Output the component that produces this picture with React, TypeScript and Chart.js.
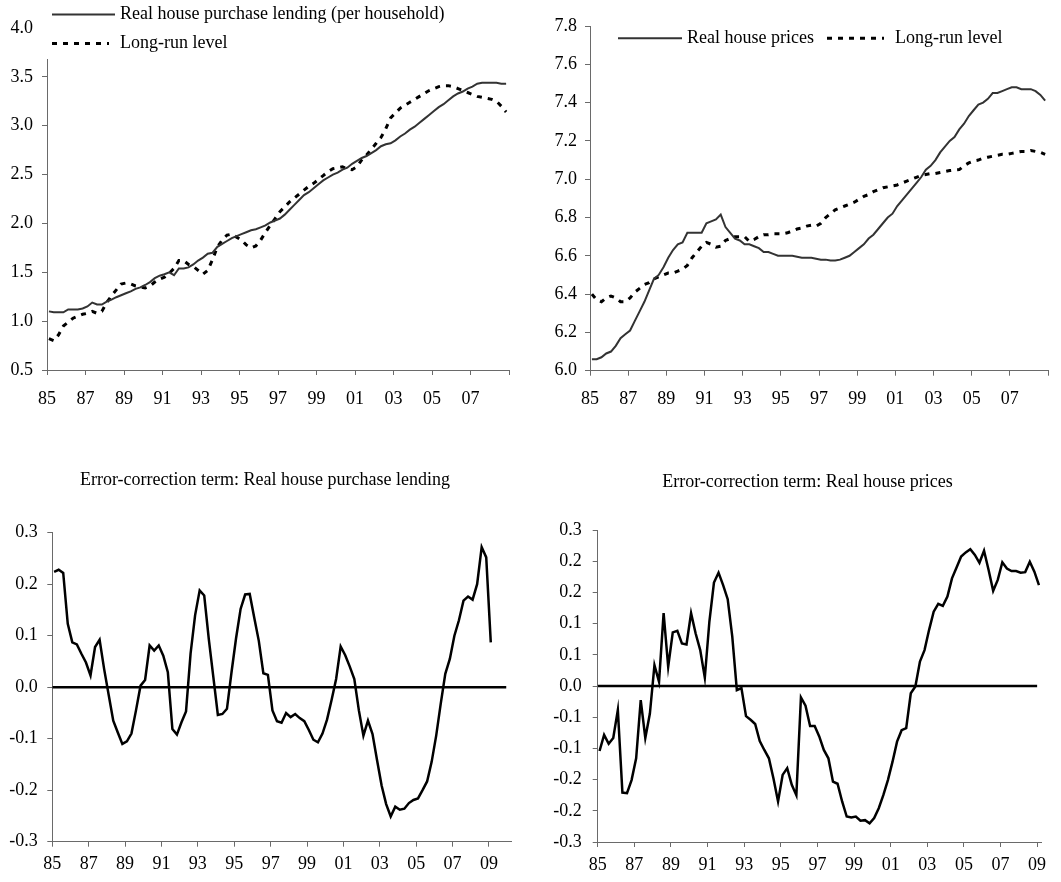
import React, { useEffect, useRef } from "react";
import { Chart, registerables } from "chart.js";

Chart.register(...registerables);

const FONT = '"Liberation Serif", "Times New Roman", serif';

// ---------- data ----------
const topQuarterStart = 1985.1; // 1985Q1 .. 2008Q4
const bottomQuarterStart = 1985.1; // 1985Q1 .. 2009Q1

const lendingActual = [
  1.10, 1.09, 1.09, 1.09,
  1.12, 1.12, 1.12, 1.13,
  1.15, 1.19, 1.17, 1.17,
  1.20, 1.22, 1.245, 1.265,
  1.285, 1.305, 1.33, 1.345,
  1.37, 1.40, 1.44, 1.465,
  1.48, 1.50, 1.47, 1.54,
  1.54, 1.55, 1.58, 1.62,
  1.65, 1.69, 1.70, 1.76,
  1.79, 1.82, 1.85, 1.87,
  1.89, 1.91, 1.93, 1.94,
  1.96, 1.98, 2.01, 2.03,
  2.05, 2.09, 2.14, 2.19,
  2.24, 2.29, 2.32, 2.36,
  2.40, 2.44, 2.47, 2.50,
  2.52, 2.55, 2.57, 2.61,
  2.64, 2.67, 2.69, 2.72,
  2.75, 2.79, 2.81, 2.82,
  2.85, 2.89, 2.92, 2.96,
  2.99, 3.03, 3.07, 3.11,
  3.15, 3.19, 3.22, 3.26,
  3.30, 3.33, 3.35, 3.38,
  3.40, 3.43, 3.44, 3.44,
  3.44, 3.44, 3.43, 3.43,
];

const lendingLongRun = [
  0.82, 0.80, 0.86, 0.95,
  0.99, 1.03, 1.05, 1.07,
  1.08, 1.10, 1.08, 1.10,
  1.19, 1.26, 1.32, 1.38,
  1.39, 1.38, 1.36, 1.35,
  1.34, 1.36, 1.40, 1.43,
  1.45, 1.49, 1.54, 1.62,
  1.62, 1.58, 1.56, 1.52,
  1.48, 1.52, 1.63, 1.76,
  1.83, 1.88, 1.89, 1.86,
  1.83, 1.78, 1.75, 1.77,
  1.83, 1.91, 1.98, 2.05,
  2.12, 2.17, 2.22, 2.26,
  2.30, 2.34, 2.38, 2.41,
  2.45, 2.49, 2.53, 2.56,
  2.57, 2.58, 2.56, 2.55,
  2.58, 2.65, 2.70, 2.76,
  2.82, 2.88, 2.97, 3.08,
  3.13, 3.18, 3.21, 3.24,
  3.27, 3.30, 3.33, 3.36,
  3.38, 3.40, 3.41, 3.41,
  3.40, 3.38, 3.36, 3.34,
  3.32, 3.30, 3.29, 3.28,
  3.27, 3.25, 3.20, 3.14,
];

const pricesActual = [
  6.06, 6.06, 6.07, 6.09,
  6.10, 6.13, 6.17, 6.19,
  6.21, 6.26, 6.31, 6.36,
  6.42, 6.48, 6.50, 6.54,
  6.59, 6.63, 6.66, 6.67,
  6.72, 6.72, 6.72, 6.72,
  6.77, 6.78, 6.79, 6.815,
  6.75, 6.72, 6.69, 6.68,
  6.66, 6.66, 6.65, 6.64,
  6.62, 6.62, 6.61, 6.60,
  6.60, 6.60, 6.60, 6.595,
  6.59, 6.59, 6.59, 6.585,
  6.58, 6.58, 6.575, 6.575,
  6.58, 6.59, 6.60, 6.62,
  6.64, 6.66, 6.69, 6.71,
  6.74, 6.77, 6.80, 6.82,
  6.86, 6.89, 6.92, 6.95,
  6.98, 7.01, 7.05, 7.07,
  7.10, 7.14, 7.17, 7.20,
  7.22, 7.26, 7.29, 7.33,
  7.36, 7.39, 7.40, 7.42,
  7.45, 7.45, 7.46, 7.47,
  7.48, 7.48, 7.47, 7.47,
  7.47, 7.46, 7.44, 7.41,
];

const pricesLongRun = [
  6.40, 6.37, 6.36, 6.38,
  6.39, 6.38, 6.36, 6.36,
  6.38, 6.41, 6.43, 6.45,
  6.46, 6.48, 6.49, 6.50,
  6.51, 6.51, 6.52, 6.53,
  6.55, 6.59, 6.62, 6.65,
  6.67, 6.66, 6.645, 6.65,
  6.68, 6.69, 6.70, 6.70,
  6.70, 6.675, 6.685, 6.70,
  6.71, 6.71, 6.715, 6.715,
  6.715, 6.72, 6.73, 6.74,
  6.745, 6.755, 6.76, 6.755,
  6.77, 6.80, 6.82, 6.84,
  6.85, 6.86, 6.87, 6.88,
  6.895, 6.91, 6.92, 6.935,
  6.945, 6.955, 6.96, 6.965,
  6.97, 6.98, 6.99, 7.00,
  7.01, 7.02, 7.025, 7.03,
  7.03, 7.035, 7.04, 7.045,
  7.048, 7.05, 7.07, 7.085,
  7.095, 7.10, 7.11, 7.115,
  7.12, 7.125, 7.13, 7.13,
  7.135, 7.14, 7.145, 7.145,
  7.15, 7.145, 7.14, 7.13,
];

const ecmLending = [
  0.224, 0.228, 0.222, 0.123,
  0.087, 0.083, 0.065, 0.048,
  0.023, 0.078, 0.092, 0.035,
  -0.015, -0.065, -0.088, -0.11,
  -0.105, -0.09, -0.045, 0.003,
  0.014, 0.081, 0.071, 0.081,
  0.061, 0.029, -0.081, -0.092,
  -0.068, -0.047, 0.065, 0.14,
  0.188, 0.178, 0.094, 0.02,
  -0.054, -0.052, -0.042, 0.029,
  0.095, 0.152, 0.18, 0.181,
  0.135, 0.09, 0.027, 0.024,
  -0.045, -0.066, -0.069, -0.05,
  -0.058, -0.052, -0.06, -0.066,
  -0.083, -0.102, -0.107, -0.09,
  -0.063, -0.025, 0.016, 0.079,
  0.062, 0.04, 0.016, -0.045,
  -0.094, -0.065, -0.091, -0.142,
  -0.191, -0.227, -0.251, -0.232,
  -0.238, -0.236, -0.225, -0.219,
  -0.216, -0.2, -0.183, -0.145,
  -0.094, -0.032, 0.026, 0.055,
  0.1, 0.13, 0.168, 0.176,
  0.17, 0.2, 0.272, 0.252,
  0.087,
];

const ecmPrices = [
  -0.125, -0.094, -0.111, -0.1,
  -0.046, -0.205, -0.206, -0.181,
  -0.139, -0.027, -0.1, -0.053,
  0.04, 0.008, 0.14, 0.037,
  0.103, 0.106, 0.082, 0.08,
  0.14, 0.101, 0.069, 0.016,
  0.124, 0.199, 0.218, 0.194,
  0.167, 0.095, -0.008, -0.004,
  -0.058, -0.065, -0.073, -0.106,
  -0.123, -0.139, -0.178, -0.222,
  -0.171, -0.158, -0.19, -0.21,
  -0.022, -0.038, -0.077, -0.077,
  -0.097, -0.123, -0.139, -0.184,
  -0.188, -0.222, -0.251, -0.253,
  -0.251, -0.259, -0.258, -0.264,
  -0.254, -0.235, -0.21, -0.181,
  -0.146, -0.107, -0.085, -0.081,
  -0.014, -0.001, 0.047, 0.069,
  0.108, 0.143, 0.158, 0.154,
  0.172, 0.207, 0.228, 0.249,
  0.257, 0.263, 0.252, 0.237,
  0.26, 0.223, 0.183, 0.204,
  0.238, 0.226, 0.221, 0.221,
  0.218, 0.219, 0.239, 0.22,
  0.194,
];

const zeroLineLendingX = [1985, 2009.95];
const zeroLinePricesX = [1985, 2009.0];

const xTickYears = [1985, 1987, 1989, 1991, 1993, 1995, 1997, 1999, 2001, 2003, 2005, 2007, 2009];
const topXTickLabels = ["85", "87", "89", "91", "93", "95", "97", "99", "01", "03", "05", "07", ""];
const bottomXTickLabels = ["85", "87", "89", "91", "93", "95", "97", "99", "01", "03", "05", "07", "09"];

const lendingYTicks = [0.5, 1.0, 1.5, 2.0, 2.5, 3.0, 3.5, 4.0];
const lendingYLabels = ["0.5", "1.0", "1.5", "2.0", "2.5", "3.0", "3.5", "4.0"];
const pricesYTicks = [6.0, 6.2, 6.4, 6.6, 6.8, 7.0, 7.2, 7.4, 7.6, 7.8];
const pricesYLabels = ["6.0", "6.2", "6.4", "6.6", "6.8", "7.0", "7.2", "7.4", "7.6", "7.8"];
const ecmLendingYTicks = [-0.3, -0.2, -0.1, 0, 0.1, 0.2, 0.3];
const ecmLendingYLabels = ["-0.3", "-0.2", "-0.1", "0.0", "0.1", "0.2", "0.3"];
const ecmPricesYTicks = [-0.3, -0.24, -0.18, -0.12, -0.06, 0, 0.06, 0.12, 0.18, 0.24, 0.3];
const ecmPricesYLabels = ["-0.3", "-0.2", "-0.2", "-0.1", "-0.1", "0.0", "0.1", "0.1", "0.2", "0.2", "0.3"];

const titleLending = "Error-correction term: Real house purchase lending";
const titlePrices = "Error-correction term: Real house prices";
const labelLending = "Real house purchase lending (per household)";
const labelPrices = "Real house prices";
const labelLongRun = "Long-run level";

// ---------- helpers ----------
const toPoints = (vals: number[], start: number) => vals.map((v, i) => ({ x: start + i * 0.25, y: v }));
const toLine = (xs: number[]) => xs.map((x) => ({ x, y: 0 }));

const AXIS_COLOR = "#6a6a6a";

function xScale(min: number, max: number, labels: string[], height: number, padding: number) {
  return {
    type: "linear",
    min,
    max,
    afterBuildTicks: (s: any) => {
      s.ticks = xTickYears.map((v) => ({ value: v }));
    },
    afterFit: (s: any) => {
      s.height = height;
    },
    ticks: {
      autoSkip: false,
      maxRotation: 0,
      color: "#000",
      padding,
      font: { family: FONT, size: 18 },
      callback: (_v: any, i: number) => labels[i],
    },
    grid: { display: true, drawOnChartArea: false, drawTicks: true, tickLength: 5, color: AXIS_COLOR },
    border: { display: true, color: AXIS_COLOR, width: 1 },
  };
}

function yScale(min: number, max: number, ticks: number[], labels: string[], width: number, padding: number) {
  return {
    type: "linear",
    min,
    max,
    afterBuildTicks: (s: any) => {
      s.ticks = ticks.map((v) => ({ value: v }));
    },
    afterFit: (s: any) => {
      s.width = width;
    },
    ticks: {
      autoSkip: false,
      color: "#000",
      padding,
      font: { family: FONT, size: 18 },
      callback: (_v: any, i: number) => labels[i],
    },
    grid: { display: true, drawOnChartArea: false, drawTicks: true, tickLength: 5, color: AXIS_COLOR },
    border: { display: true, color: AXIS_COLOR, width: 1 },
  };
}

type LegendItem = { ds: number; x1: number; x2: number; y: number; tx: number };

function legendOverlay(items: LegendItem[], cover?: [number, number, number, number]) {
  return {
    id: "legendOverlay",
    afterDraw(chart: any) {
      const ctx = chart.ctx;
      ctx.save();
      if (cover) {
        ctx.fillStyle = "#fff";
        ctx.fillRect(cover[0], cover[1], cover[2], cover[3]);
      }
      items.forEach((it) => {
        const d = chart.data.datasets[it.ds];
        ctx.strokeStyle = d.borderColor;
        ctx.lineWidth = d.borderWidth;
        ctx.lineCap = "butt";
        ctx.setLineDash(d.borderDash || []);
        ctx.beginPath();
        ctx.moveTo(it.x1, it.y);
        ctx.lineTo(it.x2, it.y);
        ctx.stroke();
        ctx.setLineDash([]);
        ctx.fillStyle = "#000";
        ctx.font = `18px ${FONT}`;
        ctx.textBaseline = "middle";
        ctx.textAlign = "left";
        ctx.fillText(d.label, it.tx, it.y);
      });
      ctx.restore();
    },
  };
}

function titleText(text: string, cx: number, cy: number) {
  return {
    id: "panelTitle",
    afterDraw(chart: any) {
      const ctx = chart.ctx;
      ctx.save();
      ctx.fillStyle = "#000";
      ctx.font = `18px ${FONT}`;
      ctx.textBaseline = "middle";
      ctx.textAlign = "center";
      ctx.fillText(text, cx, cy);
      ctx.restore();
    },
  };
}

const solidTop = { borderColor: "#333333", borderWidth: 2, pointRadius: 0, tension: 0, fill: false };
const dottedTop = { borderColor: "#000", borderWidth: 3, borderDash: [5, 6], pointRadius: 0, tension: 0, fill: false };
const ecmStyle = { borderColor: "#000", borderWidth: 2.5, pointRadius: 0, tension: 0, fill: false };
const zeroStyle = { borderColor: "#000", borderWidth: 2.5, pointRadius: 0, tension: 0, fill: false };

const baseOptions = (padding: any, scales: any) => ({
  responsive: false,
  animation: false,
  devicePixelRatio: 1,
  layout: { padding },
  plugins: {
    legend: { display: false },
    tooltip: { enabled: false },
    title: { display: false },
  },
  scales,
});

function configTopLeft() {
  return {
    type: "line",
    data: {
      datasets: [
        { label: labelLending, data: toPoints(lendingActual, topQuarterStart), ...solidTop },
        { label: labelLongRun, data: toPoints(lendingLongRun, topQuarterStart), ...dottedTop },
      ],
    },
    options: baseOptions(
      { left: 0, top: 28, right: 21, bottom: 0 },
      {
        x: xScale(1985, 2009, topXTickLabels, 50, 13),
        y: yScale(0.5, 4.0, lendingYTicks, lendingYLabels, 47, 9),
      }
    ),
    plugins: [
      legendOverlay(
        [
          { ds: 0, x1: 52, x2: 115, y: 14.5, tx: 120 },
          { ds: 1, x1: 52, x2: 109, y: 43.5, tx: 120 },
        ],
        [38, 0, 430, 59]
      ),
    ],
  };
}

function configTopRight() {
  return {
    type: "line",
    data: {
      datasets: [
        { label: labelPrices, data: toPoints(pricesActual, topQuarterStart), ...solidTop },
        { label: labelLongRun, data: toPoints(pricesLongRun, topQuarterStart), ...dottedTop },
      ],
    },
    options: baseOptions(
      { left: 0, top: 26, right: 12.7, bottom: 0 },
      {
        x: xScale(1985, 2009, topXTickLabels, 49.3, 13),
        y: yScale(6.0, 7.8, pricesYTicks, pricesYLabels, 60, 8),
      }
    ),
    plugins: [
      legendOverlay([
        { ds: 0, x1: 88, x2: 152, y: 38.3, tx: 157 },
        { ds: 1, x1: 297, x2: 354, y: 38.3, tx: 365 },
      ]),
    ],
  };
}

function configBottomLeft() {
  return {
    type: "line",
    data: {
      datasets: [
        { label: "zero", data: toLine(zeroLineLendingX), ...zeroStyle },
        { label: titleLending, data: toPoints(ecmLending, bottomQuarterStart), ...ecmStyle },
      ],
    },
    options: baseOptions(
      { left: 0, top: 112.7, right: 18.3, bottom: 0 },
      {
        x: xScale(1985, 2010.25, bottomXTickLabels, 40.3, 7),
        y: yScale(-0.3, 0.3, ecmLendingYTicks, ecmLendingYLabels, 52.3, 9.6),
      }
    ),
    plugins: [titleText(titleLending, 265, 60)],
  };
}

function configBottomRight() {
  return {
    type: "line",
    data: {
      datasets: [
        { label: "zero", data: toLine(zeroLinePricesX), ...zeroStyle },
        { label: titlePrices, data: toPoints(ecmPrices, bottomQuarterStart), ...ecmStyle },
      ],
    },
    options: baseOptions(
      { left: 0, top: 110, right: 19.3, bottom: 0 },
      {
        x: xScale(1985, 2009.25, bottomXTickLabels, 40, 7),
        y: yScale(-0.3, 0.3, ecmPricesYTicks, ecmPricesYLabels, 67.7, 11),
      }
    ),
    plugins: [titleText(titlePrices, 277.5, 62)],
  };
}

function Panel({ left, top, width, height, make }: { left: number; top: number; width: number; height: number; make: () => any }) {
  const ref = useRef<HTMLCanvasElement | null>(null);
  useEffect(() => {
    if (!ref.current) return;
    const chart = new Chart(ref.current, make());
    return () => chart.destroy();
  }, []);
  return (
    <canvas
      ref={ref}
      width={width}
      height={height}
      style={{ position: "absolute", left, top, width, height }}
    />
  );
}

export default function App() {
  return (
    <div style={{ position: "absolute", left: 0, top: 0, width: 1061, height: 882, background: "#fff" }}>
      <Panel left={0} top={0} width={530} height={420} make={configTopLeft} />
      <Panel left={530} top={0} width={531} height={420} make={configTopRight} />
      <Panel left={0} top={420} width={530} height={462} make={configBottomLeft} />
      <Panel left={530} top={420} width={531} height={462} make={configBottomRight} />
    </div>
  );
}
